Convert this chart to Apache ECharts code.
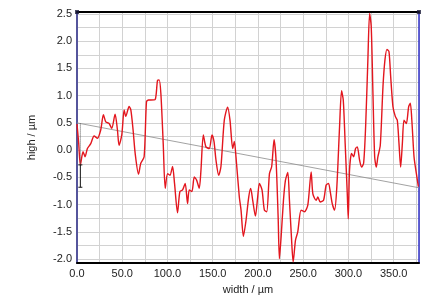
<!DOCTYPE html>
<html>
<head>
<meta charset="utf-8">
<script src="https://cdn.jsdelivr.net/npm/echarts@6/dist/echarts.min.js"></script>
<style>
html,body{margin:0;padding:0;background:#fff;}
#chart{width:447px;height:308px;}
</style>
</head>
<body>
<div id="chart"></div>
<script>
// ---- data ----
const xTitle = 'width / µm';
const yTitle = 'high / µm';
const xRange = [0, 378];
const yRange = [-2.07, 2.535];
const yLabelValues = [-2.0, -1.5, -1.0, -0.5, 0.0, 0.5, 1.0, 1.5, 2.0, 2.5];
const yGridValues = [-2.0, -1.75, -1.5, -1.25, -1.0, -0.75, -0.5, -0.25, 0, 0.25, 0.5, 0.75, 1.0, 1.25, 1.5, 1.75, 2.0, 2.25, 2.5];
const profile = [
  [0,0.48],[1.9,0.12],[3.7,-0.27],[6.7,-0.03],[8.9,-0.12],[11.5,0.03],[15.2,0.12],[18.9,0.26],
  [22.6,0.22],[26.2,0.37],[29.2,0.65],[31.8,0.52],[35.5,0.49],[38.4,0.40],[42.1,0.66],[44.7,0.37],
  [46.5,0.09],[49.5,0.28],[52.1,0.74],[53.9,0.62],[57.6,0.80],[59.5,0.74],[62.0,0.37],[64.3,-0.06],
  [68.0,-0.44],[70.5,-0.24],[74.2,-0.12],[76.8,0.89],[79.0,0.92],[81.6,0.92],[86.4,0.93],[89.0,1.28],
  [90.8,1.29],[92.7,1.04],[95.3,0.12],[97.5,-0.70],[100.1,-0.43],[102.7,-0.46],[105.6,-0.30],[107.8,-0.61],
  [111.1,-1.15],[113.7,-0.76],[116.7,-0.73],[119.6,-0.61],[122.2,-0.98],[124.1,-0.73],[127.0,-0.76],[129.6,-0.49],
  [132.2,-0.55],[135.1,-0.70],[137.0,-0.37],[139.6,0.28],[142.5,0.06],[146.2,0.03],[149.2,0.28],[151.4,0.16],
  [153.6,-0.18],[156.6,-0.46],[159.1,-0.30],[162.8,0.55],[166.5,0.79],[169.1,0.55],[172.1,0.03],[173.9,0.16],
  [175.7,-0.12],[179.4,-0.86],[181.3,-1.10],[183.9,-1.58],[186.8,-1.29],[189.8,-0.86],[192.0,-0.70],[194.2,-0.92],
  [197.2,-1.21],[199.7,-0.86],[201.6,-0.61],[204.5,-0.73],[207.1,-1.10],[209.7,-1.13],[212.7,-0.43],[215.2,-0.30],
  [217.8,0.19],[220.0,-0.18],[222.3,-1.22],[223.7,-1.99],[225.6,-1.59],[228.2,-0.92],[230.4,-0.55],[233.0,-0.41],
  [234.8,-0.92],[237.0,-1.59],[238.9,-2.05],[241.5,-1.65],[244.0,-1.50],[247.7,-1.10],[251.4,-1.13],[255.1,-1.01],
  [258.8,-0.40],[260.7,-0.80],[264.3,-0.92],[266.2,-0.86],[268.8,-0.95],[272.5,-0.92],[275.4,-0.64],[278.0,-0.61],
  [279.9,-0.76],[282.1,-0.98],[284.7,-1.10],[287.2,-0.67],[290.2,0.43],[292.4,1.09],[294.3,0.92],[296.4,0.12],
  [298.7,-0.79],[299.8,-1.26],[301.2,-0.37],[303.5,-0.06],[305.7,-0.12],[307.9,0.03],[309.8,0.06],[312.3,-0.18],
  [314.5,-0.31],[316.8,-0.24],[319.0,0.43],[321.5,1.66],[323.4,2.51],[325.2,2.27],[327.1,1.04],[329.0,-0.12],
  [330.8,-0.31],[332.6,-0.12],[335.2,0.09],[338.2,1.17],[340.4,1.66],[342.6,1.85],[344.8,1.81],[346.7,1.35],
  [349.2,0.80],[351.8,0.62],[354.0,0.55],[355.9,0.12],[357.7,-0.31],[359.6,0.12],[361.4,0.55],[364.0,0.49],
  [366.6,0.80],[368.4,0.86],[370.3,0.49],[372.5,-0.12],[375.1,-0.43],[377.3,-0.67]
];
const trendLine = [[0, 0.50], [378, -0.69]];
const markerDotted = [[3.7, 0.49], [3.7, -0.27]];
const markerSolid = [[3.7, -0.27], [3.7, -0.68]];
const cornerMarks = [[0, 2.535], [378, 2.535]];

// ---- chart ----
const chart = echarts.init(document.getElementById('chart'), null, {renderer: 'canvas'});
const font = 'Liberation Sans, Arial, sans-serif';
chart.setOption({
  animation: false,
  backgroundColor: '#ffffff',
  grid: {left: 77, right: 28, top: 12, bottom: 45, containLabel: false},
  xAxis: [{
    type: 'value', min: xRange[0], max: xRange[1], interval: 25,
    name: xTitle, nameLocation: 'middle', nameGap: 21,
    nameTextStyle: {fontFamily: font, fontSize: 11, color: '#222'},
    axisLine: {show: true, onZero: false, lineStyle: {color: '#000', width: 2}},
    axisTick: {show: false},
    axisLabel: {
      interval: 0, margin: 5, fontFamily: font, fontSize: 11, color: '#222',
      formatter: v => (Math.abs(v % 50) < 1e-6 ? v.toFixed(1) : '')
    },
    splitLine: {show: true, lineStyle: {color: '#d2d2d2', width: 1}}
  }, {
    type: 'value', position: 'top', min: xRange[0], max: xRange[1],
    axisLine: {show: true, onZero: false, lineStyle: {color: '#000', width: 2}},
    axisTick: {show: false}, axisLabel: {show: false}, splitLine: {show: false}
  }],
  yAxis: [{
    type: 'value', min: yRange[0], max: yRange[1],
    name: yTitle, nameLocation: 'middle', nameGap: 40,
    nameTextStyle: {fontFamily: font, fontSize: 11, color: '#222'},
    axisLine: {show: true, onZero: false, lineStyle: {color: '#55559c', width: 2}},
    axisTick: {show: false, customValues: yGridValues},
    axisLabel: {
      customValues: yLabelValues, margin: 5, fontFamily: font, fontSize: 11, color: '#222',
      formatter: v => v.toFixed(1)
    },
    splitLine: {show: true, lineStyle: {color: '#d2d2d2', width: 1}}
  }, {
    type: 'value', position: 'right', min: yRange[0], max: yRange[1],
    axisLine: {show: true, onZero: false, lineStyle: {color: '#3030c8', width: 1.5}},
    axisTick: {show: false}, axisLabel: {show: false}, splitLine: {show: false}
  }],
  series: [{
    type: 'line', data: trendLine, showSymbol: false, silent: true,
    lineStyle: {color: '#8a8a8a', width: 0.8}, z: 2
  }, {
    type: 'line', data: profile, showSymbol: false, smooth: 0.25,
    lineStyle: {color: '#e3161e', width: 1.4}, z: 3
  }, {
    type: 'line', data: markerDotted, showSymbol: false,
    lineStyle: {color: '#555', width: 1, type: [1, 1]}, z: 4
  }, {
    type: 'line', data: markerSolid, symbol: 'rect', symbolSize: [4, 1], showSymbol: true,
    itemStyle: {color: '#111'}, lineStyle: {color: '#111', width: 1}, z: 4
  }, {
    type: 'scatter', data: cornerMarks, symbol: 'rect', symbolSize: 4, clip: false,
    itemStyle: {color: '#1a1a3a'}, z: 5
  }]
});
</script>
</body>
</html>
